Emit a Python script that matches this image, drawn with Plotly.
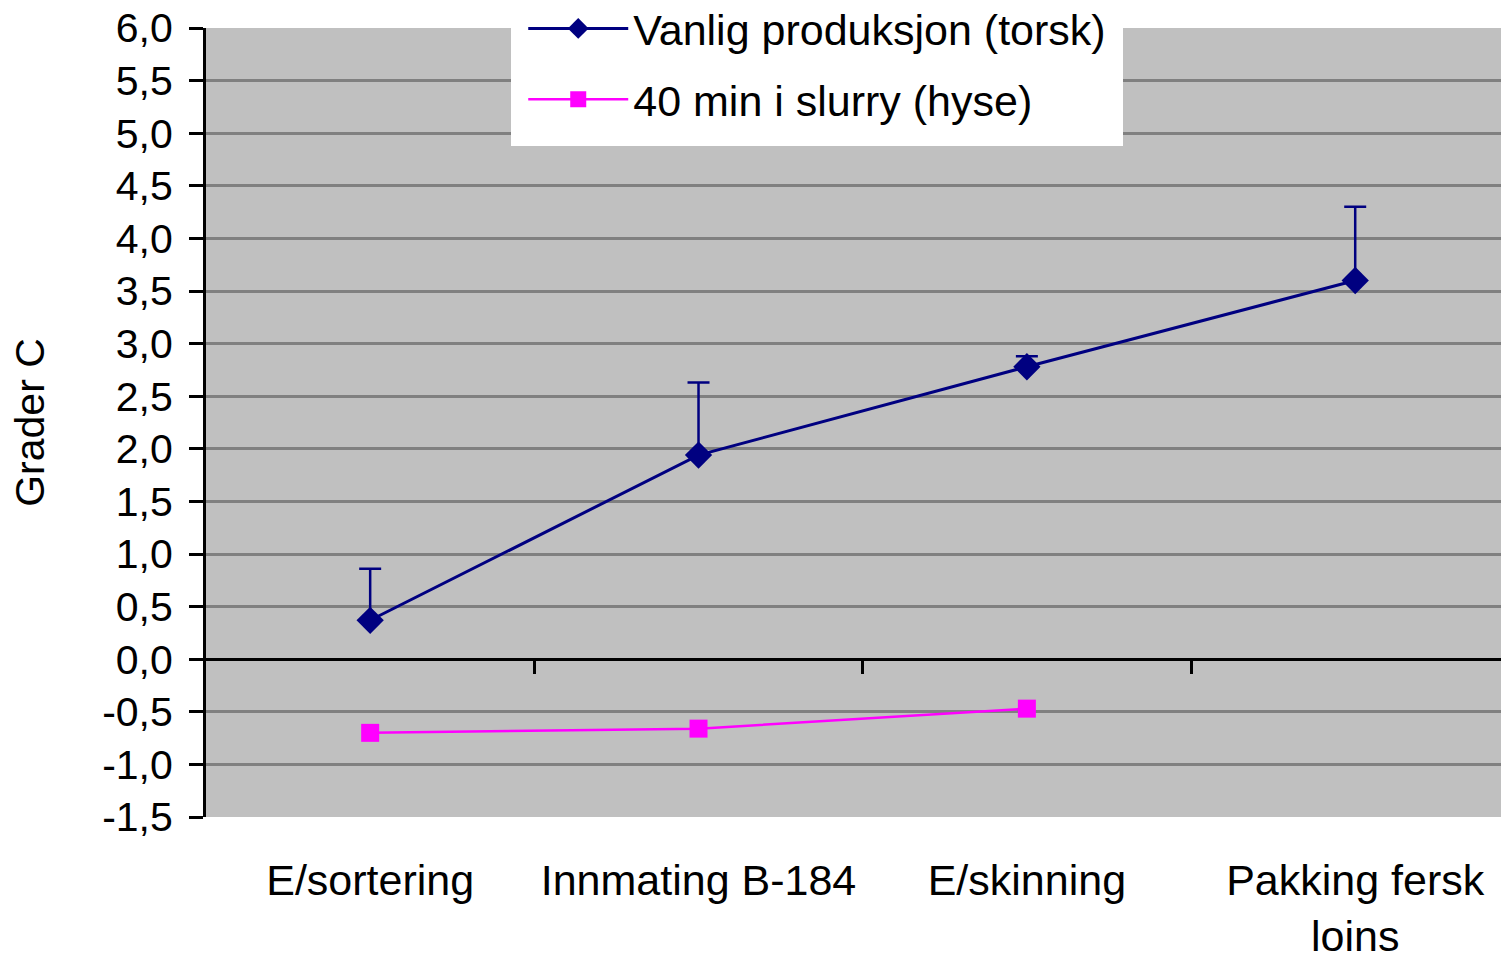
import plotly.graph_objects as go

categories = ["E/sortering", "Innmating B-184", "E/skinning", "Pakking fersk<br>loins"]
vanlig = [0.37, 1.94, 2.78, 3.60]
vanlig_err_plus = [0.49, 0.69, 0.10, 0.70]
hyse_categories = ["E/sortering", "Innmating B-184", "E/skinning"]
hyse = [-0.70, -0.66, -0.47]
ytick_vals = [6.0, 5.5, 5.0, 4.5, 4.0, 3.5, 3.0, 2.5, 2.0, 1.5, 1.0, 0.5, 0.0, -0.5, -1.0, -1.5]
ytick_text = ["6,0", "5,5", "5,0", "4,5", "4,0", "3,5", "3,0", "2,5", "2,0", "1,5", "1,0", "0,5", "0,0", "-0,5", "-1,0", "-1,5"]
boundary_ticks = [0.5, 1.5, 2.5]

FONT = "Arial, Liberation Sans, sans-serif"

fig = go.Figure()
fig.add_trace(go.Scatter(
    x=categories, y=vanlig, name="Vanlig produksjon (torsk)",
    mode="lines+markers", legendgroup="a",
    line=dict(color="#000080", width=3),
    marker=dict(symbol="diamond", size=21, color="#000080"),
    error_y=dict(type="data", symmetric=False, array=vanlig_err_plus,
                 arrayminus=[0] * len(vanlig), color="#000080", thickness=2.5, width=11),
))
fig.add_trace(go.Scatter(
    x=hyse_categories, y=hyse, name="40 min i slurry (hyse)",
    mode="lines+markers", legendgroup="b",
    line=dict(color="#FF00FF", width=2.5),
    marker=dict(symbol="square", size=18, color="#FF00FF"),
))
# helper trace for the boundary tick axis at y = 0
fig.add_trace(go.Scatter(x=boundary_ticks, y=[None] * 3, xaxis="x2", yaxis="y",
                         showlegend=False, hoverinfo="skip", mode="markers"))

fig.update_layout(
    width=1501, height=954,
    margin=dict(l=206, r=0, t=28, b=137, autoexpand=False),
    paper_bgcolor="white", plot_bgcolor="#C0C0C0",
    font=dict(family=FONT, size=41, color="black"),
    showlegend=True,
    legend=dict(x=0.2357, y=1.0583, xanchor="left", yanchor="top",
                bgcolor="white", bordercolor="white", borderwidth=12, itemwidth=100,
                tracegroupgap=12, font=dict(size=43)),
    xaxis=dict(type="category", categoryorder="array", categoryarray=categories,
               range=[-0.5, 3.444], showgrid=False, zeroline=False, showline=False,
               ticks="outside", ticklen=25, tickcolor="rgba(0,0,0,0)",
               tickfont=dict(size=43), fixedrange=True, automargin=False),
    xaxis2=dict(overlaying="x", anchor="free", position=0.2, side="bottom",
                range=[-0.5, 3.444], showgrid=False, zeroline=False,
                showline=False, tickvals=boundary_ticks, showticklabels=False,
                ticks="outside", ticklen=14, tickwidth=3, tickcolor="black",
                automargin=False),
    yaxis=dict(range=[-1.5, 6.0], tickvals=ytick_vals, ticktext=ytick_text,
               showgrid=True, gridcolor="#808080", gridwidth=3,
               zeroline=True, zerolinecolor="black", zerolinewidth=3,
               showline=True, linecolor="black", linewidth=3,
               ticks="outside", ticklen=14, tickwidth=3, tickcolor="black",
               tickfont=dict(size=41), ticklabelstandoff=8, automargin=False,
               title=dict(text="Grader C", font=dict(size=41), standoff=45)),
)

fig.write_html("out.html", config={"displayModeBar": False},
               post_script="document.body.style.margin='0px';")
